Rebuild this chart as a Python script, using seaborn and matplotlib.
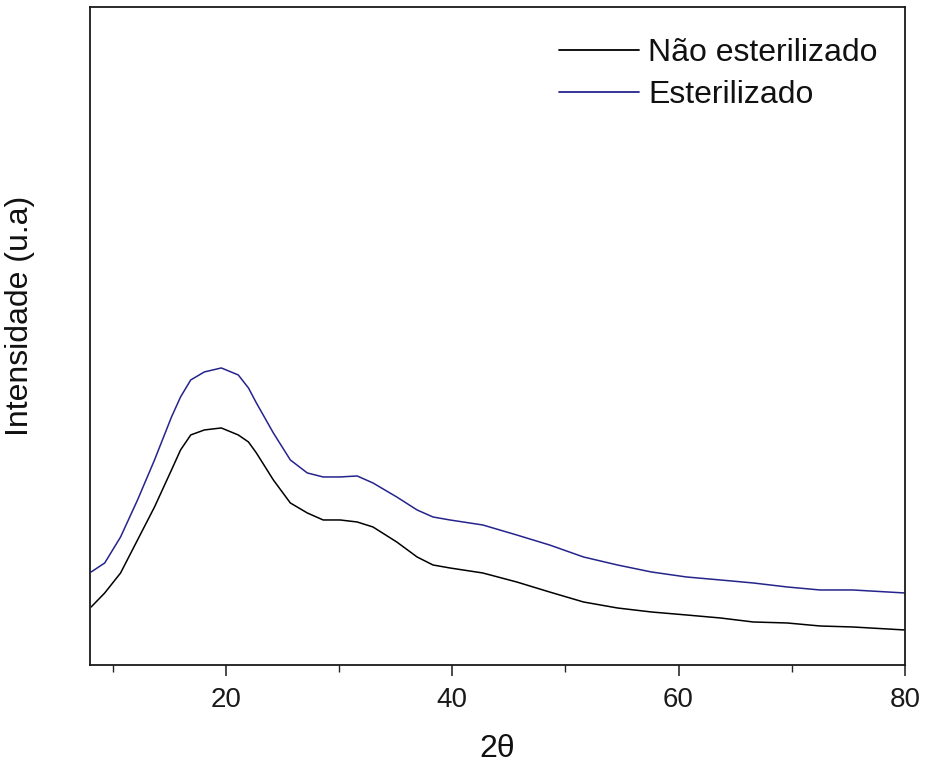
import numpy as np
import pandas as pd
import seaborn as sns
import matplotlib.pyplot as plt
from matplotlib.ticker import MultipleLocator, NullLocator

# values (2theta vs intensity, arbitrary units)
two_theta = [8.1, 9.3, 10.7, 12.2, 13.7, 15.2, 16.0, 16.9, 18.1, 19.6, 21.1, 22.0,
             22.7, 24.2, 25.7, 27.2, 28.6, 30.1, 31.6, 33.0, 35.1, 36.9, 38.3, 39.8,
             42.7, 45.7, 48.6, 51.6, 54.6, 57.6, 60.7, 63.7, 66.6, 69.6, 72.5, 75.4, 80.0]
nao_esterilizado = [58, 72, 92, 125, 158, 195, 215, 230, 235, 237, 230, 223,
                    212, 185, 162, 152, 145, 145, 143, 138, 123, 108, 100, 97,
                    92, 83, 73, 63, 57, 53, 50, 47, 43, 42, 39, 38, 35]
esterilizado = [93, 102, 128, 165, 205, 248, 268, 285, 293, 297, 290, 277,
                262, 232, 205, 192, 188, 188, 189, 182, 168, 155, 148, 145,
                140, 130, 120, 108, 100, 93, 88, 85, 82, 78, 75, 75, 72]
labels = ["Não esterilizado", "Esterilizado"]
colors = ["#000000", "#24248c"]

df = pd.DataFrame({
    "2θ": two_theta * 2,
    "Intensidade": nao_esterilizado + esterilizado,
    "Amostra": [labels[0]] * len(two_theta) + [labels[1]] * len(two_theta),
})

sns.set_style("ticks")
plt.rcParams['font.family'] = ['Liberation Sans', 'DejaVu Sans']

fig = plt.figure(figsize=(9.25, 7.67), dpi=100)
ax = fig.add_axes([0.0973, 0.133, 0.881, 0.858])

sns.lineplot(data=df, x="2θ", y="Intensidade", hue="Amostra",
             palette=dict(zip(labels, colors)), linewidth=1.1, ax=ax)

ax.set_xlim(8, 80)
ax.set_ylim(0, 658)
ax.xaxis.set_major_locator(MultipleLocator(20))
ax.xaxis.set_minor_locator(MultipleLocator(10))
ax.yaxis.set_major_locator(NullLocator())
ax.tick_params(axis='x', which='major', direction='out', length=8, width=1.1,
               labelsize=20, pad=8, colors='#1a1a1a')
ax.tick_params(axis='x', which='minor', direction='out', length=5, width=1.0)
for s in ax.spines.values():
    s.set_visible(True)
    s.set_color('#1a1a1a')
    s.set_linewidth(1.3)

ax.set_xlabel("2θ", fontsize=23, labelpad=15, color='#111111')
ax.set_ylabel("Intensidade (u.a)", fontsize=23, color='#111111')
ax.yaxis.set_label_coords(-0.068, 0.53)

leg = ax.legend(loc='upper right', bbox_to_anchor=(1.002, 0.996), frameon=False,
                fontsize=23, handlelength=2.5, handletextpad=0.3,
                labelspacing=0.38, title=None)
for text in leg.get_texts():
    text.set_color('#111111')
for line in leg.get_lines():
    line.set_linewidth(1.3)

fig.savefig("out.png", dpi=100)
